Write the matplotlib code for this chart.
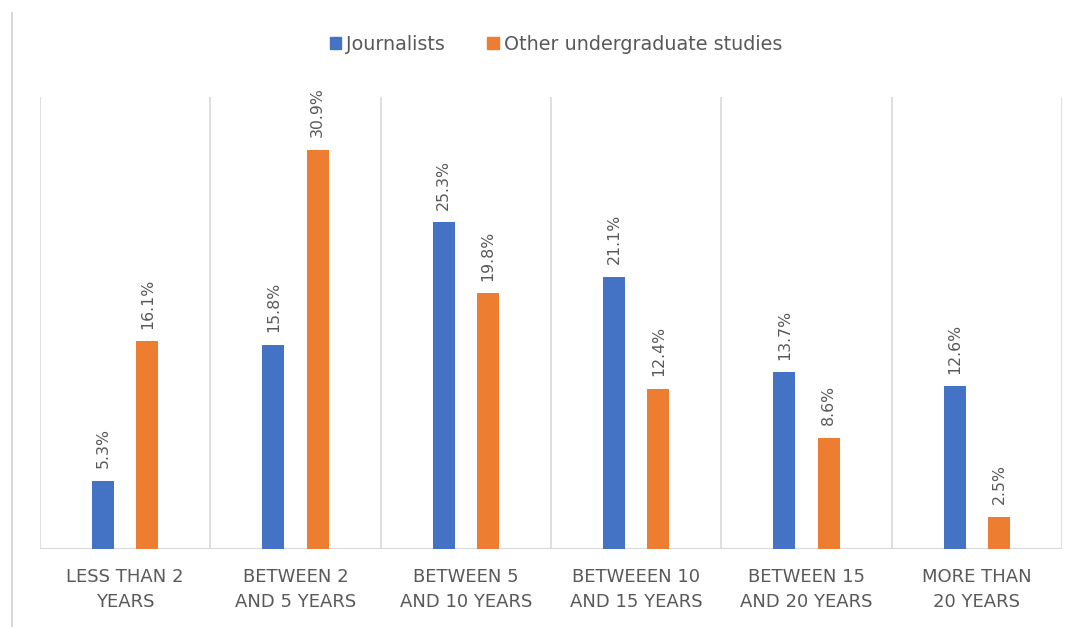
import matplotlib.pyplot as plt
from matplotlib.lines import Line2D
from matplotlib.patches import Patch
import numpy as np

categories = ["LESS THAN 2\nYEARS", "BETWEEN 2\nAND 5 YEARS", "BETWEEN 5\nAND 10 YEARS",
              "BETWEEEN 10\nAND 15 YEARS", "BETWEEN 15\nAND 20 YEARS", "MORE THAN\n20 YEARS"]
journalists = [5.3, 15.8, 25.3, 21.1, 13.7, 12.6]
other_studies = [16.1, 30.9, 19.8, 12.4, 8.6, 2.5]
series_names = ["Journalists", "Other undergraduate studies"]

BLUE = "#4472C4"
ORANGE = "#ED7D31"
GRID = "#D9D9D9"
TEXT = "#595959"

plt.rcParams["font.family"] = ["DejaVu Sans"]

W, H = 1083, 627
fig = plt.figure(figsize=(W / 100, H / 100), dpi=100)
ax = fig.add_axes([40 / W, (H - 549) / H, (1062 - 40) / W, (549 - 97) / H])

x = np.arange(len(categories))
bw = 0.13
b1 = ax.bar(x - bw, journalists, width=bw, color=BLUE)
b2 = ax.bar(x + bw, other_studies, width=bw, color=ORANGE)

for bars, vals in ((b1, journalists), (b2, other_studies)):
    for rect, v in zip(bars, vals):
        ax.annotate(f"{v}%", (rect.get_x() + rect.get_width() / 2, v),
                    xytext=(0, 9), textcoords="offset points",
                    rotation=90, ha="center", va="bottom",
                    fontsize=11.3, color=TEXT)

ax.set_xlim(-0.5, len(categories) - 0.5)
ax.set_ylim(0, 35)

# vertical separators between categories
for b in np.arange(-0.5, len(categories), 1.0):
    ax.axvline(b, color=GRID, lw=1.2, zorder=0)
ax.axhline(0, color=GRID, lw=1.5, zorder=0)

for s in ax.spines.values():
    s.set_visible(False)
ax.set_yticks([])
ax.set_xticks(x)
ax.set_xticklabels(categories, fontsize=13, color=TEXT, linespacing=1.5)
ax.tick_params(axis="x", length=0, pad=14)

# outer frame edge on the left
fig.add_artist(Line2D([12 / W, 12 / W], [0, (H - 13) / H], color=GRID, lw=1.5))

handles = [Patch(color=BLUE), Patch(color=ORANGE)]
fig.legend(handles, series_names, loc="center", bbox_to_anchor=(556 / W, (H - 44) / H),
           ncol=2, frameon=False, fontsize=13.8, handlelength=0.6, handleheight=0.6,
           handletextpad=0.25, columnspacing=2.2, labelcolor=TEXT)

fig.savefig("out.png", dpi=100, facecolor="white")
